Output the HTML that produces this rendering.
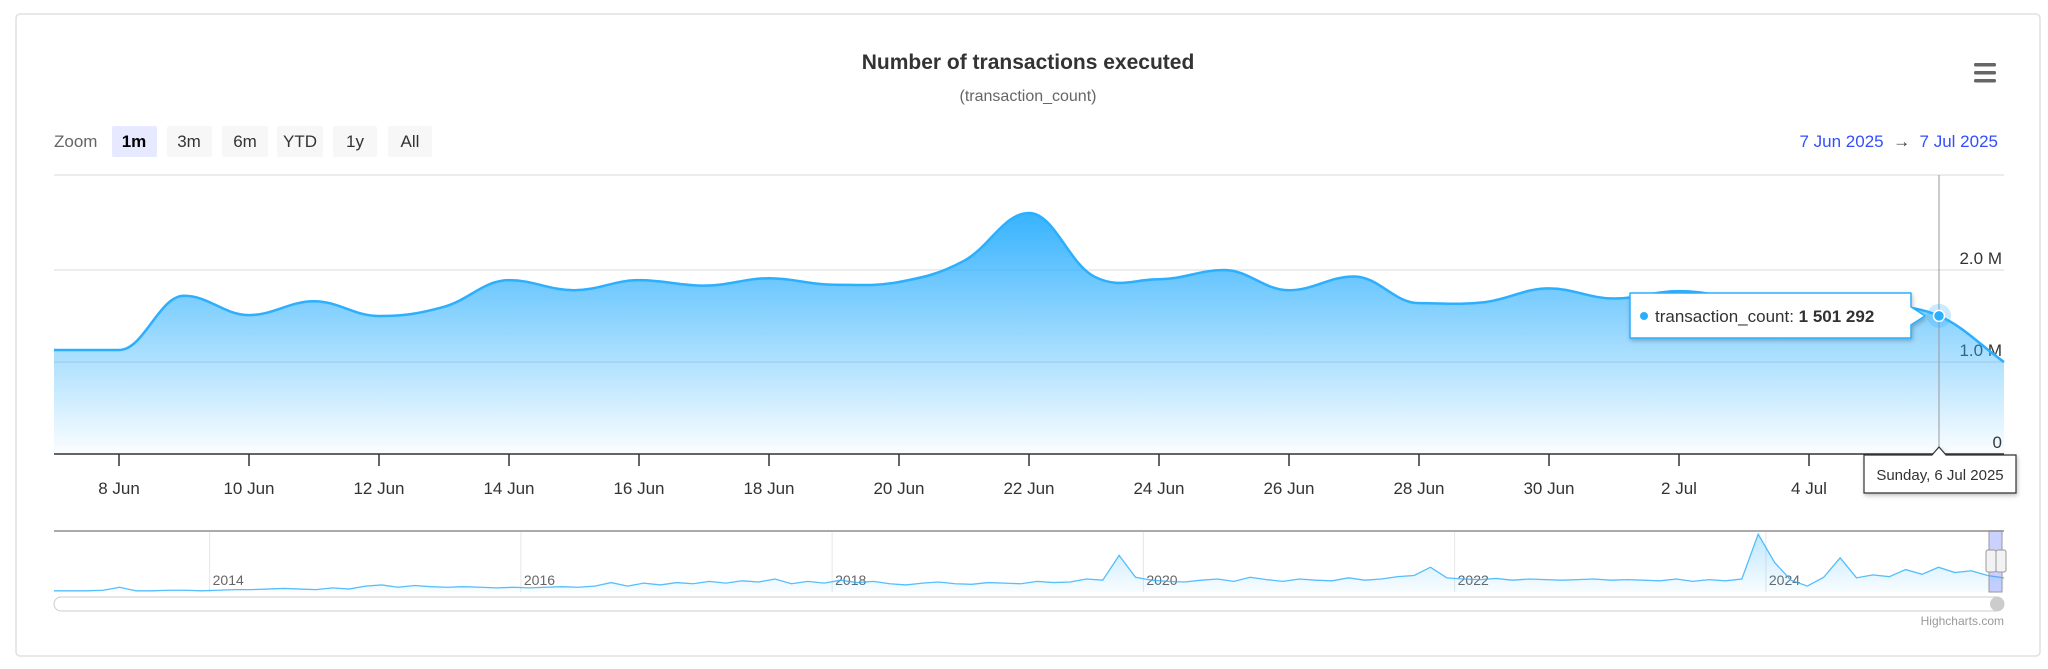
<!DOCTYPE html>
<html><head><meta charset="utf-8">
<style>
body{margin:0;width:2048px;height:669px;background:#fff;font-family:"Liberation Sans",sans-serif;overflow:hidden}
svg{position:absolute;left:0;top:0}
</style></head>
<body>
<svg width="2048" height="669" viewBox="0 0 2048 669" xmlns="http://www.w3.org/2000/svg" font-family="Liberation Sans, sans-serif">
<defs>
<linearGradient id="g" x1="0" y1="0" x2="0" y2="1"><stop offset="0" stop-color="#2caffe" stop-opacity="1"/><stop offset="1" stop-color="#2caffe" stop-opacity="0.02"/></linearGradient>
<linearGradient id="g2" x1="0" y1="0" x2="0" y2="1"><stop offset="0" stop-color="#2caffe" stop-opacity="0.3"/><stop offset="1" stop-color="#2caffe" stop-opacity="0.03"/></linearGradient>
<filter id="sh" x="-10%" y="-20%" width="120%" height="150%"><feDropShadow dx="1" dy="2" stdDeviation="2" flood-opacity="0.25"/></filter>
</defs>
<rect x="16" y="14" width="2024" height="642" rx="4" fill="#fff" stroke="#e0e0e0" stroke-width="1.5"/>
<text x="1028" y="69" text-anchor="middle" font-size="21" font-weight="bold" fill="#333">Number of transactions executed</text>
<text x="1028" y="101" text-anchor="middle" font-size="16" fill="#666">(transaction_count)</text>
<g fill="#666"><rect x="1974" y="63" width="22" height="3.5" rx="1.5"/><rect x="1974" y="71" width="22" height="3.5" rx="1.5"/><rect x="1974" y="79" width="22" height="3.5" rx="1.5"/></g>
<text x="54" y="147" font-size="17" fill="#666">Zoom</text>
<g font-size="17" text-anchor="middle" fill="#333">
<rect x="112" y="126" width="45" height="31" rx="2" fill="#e6e9ff"/><text x="134" y="147" font-weight="bold" fill="#000">1m</text>
<rect x="167" y="126" width="45" height="31" rx="2" fill="#f7f7f7"/><text x="189" y="147">3m</text>
<rect x="222" y="126" width="46" height="31" rx="2" fill="#f7f7f7"/><text x="245" y="147">6m</text>
<rect x="277" y="126" width="46" height="31" rx="2" fill="#f7f7f7"/><text x="300" y="147">YTD</text>
<rect x="333" y="126" width="44" height="31" rx="2" fill="#f7f7f7"/><text x="355" y="147">1y</text>
<rect x="388" y="126" width="44" height="31" rx="2" fill="#f7f7f7"/><text x="410" y="147">All</text>
</g>
<text x="1998" y="147" text-anchor="end" font-size="17" fill="#334eff">7 Jun 2025 <tspan fill="#333">&#160;→&#160;</tspan> 7 Jul 2025</text>
<line x1="54" y1="175" x2="2004" y2="175" stroke="#e6e6e6" stroke-width="1.5"/>
<g id="main"></g>
<g id="nav"></g>
<text x="2004" y="625" text-anchor="end" font-size="12" fill="#999">Highcharts.com</text>
</svg>
<script>
const days = ['7 Jun','8 Jun','9 Jun','10 Jun','11 Jun','12 Jun','13 Jun','14 Jun','15 Jun','16 Jun','17 Jun','18 Jun','19 Jun','20 Jun','21 Jun','22 Jun','23 Jun','24 Jun','25 Jun','26 Jun','27 Jun','28 Jun','29 Jun','30 Jun','1 Jul','2 Jul','3 Jul','4 Jul','5 Jul','6 Jul','7 Jul'];
const values = [1.13,1.13,1.72,1.51,1.66,1.50,1.60,1.89,1.78,1.89,1.83,1.91,1.84,1.87,2.10,2.62,1.93,1.90,2.00,1.78,1.93,1.64,1.65,1.80,1.69,1.77,1.69,1.68,1.62,1.501292,1.00];
const yTicks = [0,1,2];
const yTickLabels = ['0','1.0 M','2.0 M'];
const xTickLabels = ['8 Jun','10 Jun','12 Jun','14 Jun','16 Jun','18 Jun','20 Jun','22 Jun','24 Jun','26 Jun','28 Jun','30 Jun','2 Jul','4 Jul'];
const xTickDays = [1,3,5,7,9,11,13,15,17,19,21,23,25,27];
const navYears = ['2014','2016','2018','2020','2022','2024'];
const navYearValues = [2014,2016,2018,2020,2022,2024];
const navValues = [0.02,0.02,0.02,0.03,0.08,0.02,0.02,0.03,0.03,0.02,0.03,0.04,0.04,0.05,0.06,0.05,0.04,0.07,0.05,0.10,0.12,0.08,0.11,0.09,0.08,0.09,0.08,0.07,0.08,0.07,0.08,0.09,0.08,0.10,0.16,0.10,0.15,0.12,0.16,0.14,0.18,0.15,0.19,0.17,0.22,0.14,0.18,0.15,0.20,0.16,0.18,0.14,0.12,0.15,0.17,0.14,0.13,0.16,0.15,0.14,0.18,0.16,0.17,0.22,0.20,0.62,0.25,0.20,0.18,0.17,0.20,0.22,0.18,0.25,0.21,0.18,0.22,0.20,0.19,0.24,0.20,0.22,0.26,0.28,0.42,0.24,0.22,0.21,0.23,0.20,0.22,0.21,0.20,0.21,0.22,0.20,0.21,0.20,0.19,0.22,0.18,0.21,0.19,0.22,0.98,0.50,0.20,0.10,0.25,0.58,0.24,0.29,0.26,0.38,0.30,0.42,0.33,0.36,0.28,0.24];
const NS='http://www.w3.org/2000/svg';
function mk(t,a,p){const e=document.createElementNS(NS,t);for(const k in a)e.setAttribute(k,a[k]);p.appendChild(e);return e;}
const L=54,R=2004,Y0=454,PX=92;
const x=d=>L+(R-L)*d/30, y=v=>Y0-v*PX;
function smooth(pts){
  const n=pts.length, sl=[];
  for(let i=0;i<n;i++){
    if(i==0||i==n-1){sl.push(0);continue;}
    const a=pts[i-1],b=pts[i],c=pts[i+1];
    if((b[1]-a[1])*(c[1]-b[1])<=0) sl.push(0); else sl.push((c[1]-a[1])/(c[0]-a[0]));
  }
  sl[n-1]=(pts[n-1][1]-pts[n-2][1])/(pts[n-1][0]-pts[n-2][0]);
  let d='M'+pts[0][0]+','+pts[0][1];
  for(let i=0;i<n-1;i++){const p1=pts[i],p2=pts[i+1],h=(p2[0]-p1[0])/2.6;
    d+=`C${p1[0]+h},${p1[1]+sl[i]*h} ${p2[0]-h},${p2[1]-sl[i+1]*h} ${p2[0]},${p2[1]}`;}
  return d;}
const m=document.getElementById('main');
yTicks.forEach((t,i)=>{
  if(t>0){const gl=mk('line',{x1:L,x2:R,y1:y(t),y2:y(t),stroke:'#e6e6e6','stroke-width':1.5},m);
  }
  const tx=mk('text',{x:R-2,y:y(t)-6,'text-anchor':'end','font-size':17,fill:'#333'},m);tx.textContent=yTickLabels[i];
  
});
const pts=values.map((v,i)=>[x(i),y(v)]);
const line=smooth(pts);
const area=mk('path',{d:line+`L${R},${Y0}L${L},${Y0}Z`,fill:'url(#g)','fill-opacity':0.95},m);

const ln=mk('path',{d:line,fill:'none',stroke:'#2caffe','stroke-width':2.5},m);

const ax=mk('line',{x1:L,x2:R,y1:Y0,y2:Y0,stroke:'#333','stroke-width':1.5},m);

xTickDays.forEach((d,i)=>{
  const tk=mk('line',{x1:x(d),x2:x(d),y1:Y0,y2:Y0+12,stroke:'#333','stroke-width':1.5},m);
  
  const tx=mk('text',{x:x(d),y:494,'text-anchor':'middle','font-size':17,fill:'#333'},m);tx.textContent=xTickLabels[i];
  
});
const hi=29, hx=x(hi), hy=y(values[hi]);
const ch=mk('line',{x1:hx,x2:hx,y1:175,y2:Y0,stroke:'#999','stroke-width':1},m);

const halo=mk('circle',{cx:hx,cy:hy,r:12,fill:'#2caffe','fill-opacity':0.25},m);

const hp=mk('circle',{cx:hx,cy:hy,r:5.5,fill:'#2caffe',stroke:'#fff','stroke-width':1.5},m);

const tg=mk('g',{filter:'url(#sh)'},m);

mk('path',{d:`M1630,293 H1911 V${hy-9} L${hx-14},${hy} L1911,${hy+9} V338 H1630 Z`,fill:'#fff',stroke:'#2caffe','stroke-width':1.5,'stroke-linejoin':'round'},tg);
mk('circle',{cx:1644,cy:316,r:4,fill:'#2caffe'},tg);
const tt=mk('text',{x:1655,y:322,'font-size':17,fill:'#333'},tg);
tt.innerHTML='transaction_count: <tspan font-weight="bold">'+Math.round(values[hi]*1e6).toLocaleString('en-US').replace(/,/g,' ')+'</tspan>';
const dg=mk('g',{filter:'url(#sh)'},m);

mk('path',{d:`M1864,455 H${hx-7} L${hx},447 L${hx+7},455 H2016 V493 H1864 Z`,fill:'#fff',stroke:'#333','stroke-width':1.2},dg);
const dt=mk('text',{x:1940,y:480,'text-anchor':'middle','font-size':15,fill:'#333'},dg);dt.textContent='Sunday, 6 Jul 2025';
const n=document.getElementById('nav');
const NT=531,NB=592,ys=v=>NB-v*(NB-NT-2);
const yr0=2013.0,yr1=2025.53,nx=yr=>L+(R-L)*(yr-yr0)/(yr1-yr0);
navYearValues.forEach((yv,i)=>{
  const gl=mk('line',{x1:nx(yv),x2:nx(yv),y1:NT,y2:NB,stroke:'#e6e6e6','stroke-width':1},n);
  
  const tx=mk('text',{x:nx(yv)+3,y:585,'font-size':14,fill:'#666'},n);tx.textContent=navYears[i];
  
});
const npts=navValues.map((v,i)=>[L+(R-L)*i/(navValues.length-1),ys(v)]);
let nd='M'+npts.map(p=>p[0]+','+p[1]).join('L');
const na=mk('path',{d:nd+`L${R},${NB}L${L},${NB}Z`,fill:'url(#g2)'},n);

const nl=mk('path',{d:nd,fill:'none',stroke:'#2caffe','stroke-width':1.3,'stroke-opacity':0.8},n);

const nt=mk('line',{x1:L,x2:R,y1:NT,y2:NT,stroke:'#aaa','stroke-width':2},n);

const sel=mk('rect',{x:1989,y:NT,width:13,height:NB-NT,fill:'#667aff','fill-opacity':0.35,stroke:'#999','stroke-width':1},n);

[1987,1997].forEach(hx2=>{const h=mk('rect',{x:hx2-1,y:550,width:10,height:22,rx:2,fill:'#f2f2f2',stroke:'#999'},n);
});
const sb=mk('rect',{x:L,y:597,width:R-L,height:14,rx:7,fill:'#fff',stroke:'#ccc','stroke-width':1},n);

const sth=mk('circle',{cx:R-7,cy:604,r:7,fill:'#ccc'},n);

</script>
</body></html>
